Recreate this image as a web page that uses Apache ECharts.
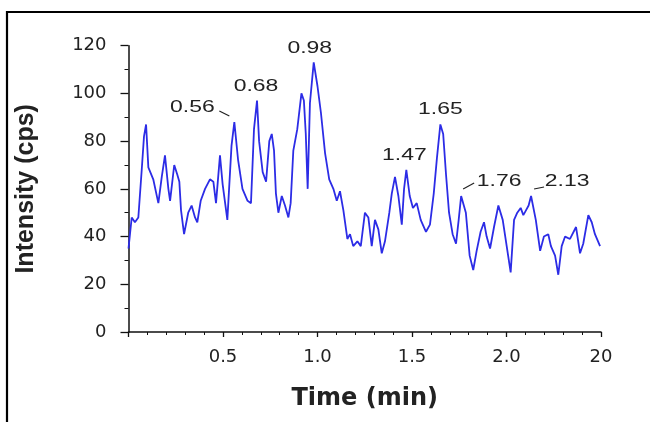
<!DOCTYPE html>
<html>
<head>
<meta charset="utf-8">
<script src="https://cdn.jsdelivr.net/npm/echarts@6/dist/echarts.min.js"></script>
<style>
  html, body { margin: 0; padding: 0; background: #ffffff; }
  #chart { width: 650px; height: 422px; }
</style>
</head>
<body>
<div id="chart"></div>
<script>
// Chromatogram trace: retention time (min) and intensity (cps)
const times = [
  0.000, 0.017, 0.034, 0.052, 0.070, 0.082, 0.093, 0.105, 0.131, 0.158,
  0.176, 0.193, 0.211, 0.220, 0.242, 0.258, 0.269, 0.278, 0.294, 0.316,
  0.334, 0.352, 0.364, 0.382, 0.405, 0.431, 0.449, 0.463, 0.484, 0.498,
  0.523, 0.545, 0.560, 0.580, 0.603, 0.630, 0.648, 0.664, 0.680, 0.691,
  0.710, 0.728, 0.745, 0.758, 0.770, 0.780, 0.793, 0.811, 0.828, 0.846,
  0.858, 0.872, 0.893, 0.915, 0.928, 0.938, 0.948, 0.960, 0.980, 1.000,
  1.018, 1.040, 1.062, 1.084, 1.102, 1.119, 1.137, 1.158, 1.172, 1.189,
  1.211, 1.229, 1.251, 1.269, 1.287, 1.304, 1.322, 1.340, 1.357, 1.380,
  1.393, 1.410, 1.428, 1.446, 1.458, 1.470, 1.488, 1.505, 1.525, 1.546,
  1.574, 1.595, 1.615, 1.632, 1.650, 1.665, 1.680, 1.696, 1.715, 1.733,
  1.747, 1.760, 1.785, 1.805, 1.824, 1.842, 1.863, 1.881, 1.895, 1.913,
  1.934, 1.957, 1.980, 2.001, 2.022, 2.040, 2.057, 2.075, 2.089, 2.103,
  2.117, 2.130, 2.155, 2.178, 2.198, 2.221, 2.235, 2.257, 2.274, 2.292,
  2.310, 2.336, 2.368, 2.389, 2.406, 2.433, 2.451, 2.468, 2.495
];
const intensity = [
  35, 48, 46, 48, 68, 82, 87, 69, 64, 54,
  65, 74, 60, 55, 70, 66, 63, 51, 41, 50,
  53, 48, 46, 55, 60, 64, 63, 54, 74, 62,
  47, 78, 88, 72, 60, 55, 54, 85, 97, 80,
  67, 63, 80, 83, 76, 58, 50, 57, 53, 48,
  54, 76, 85, 100, 97, 83, 60, 96, 113, 103,
  92, 75, 64, 60, 55, 59, 51, 39, 41, 36,
  38, 36, 50, 48, 36, 47, 43, 33, 38, 50,
  58, 65, 57, 45, 60, 68, 57, 52, 54, 47,
  42, 45, 58, 73, 87, 83, 66, 50, 41, 37,
  47, 57, 50, 32, 26, 34, 42, 46, 40, 35,
  44, 53, 47, 36, 25, 47, 50, 52, 49, 51,
  53, 57, 47, 34, 40, 41, 36, 32, 24, 36,
  40, 39, 44, 33, 37, 49, 46, 41, 36
];

// Annotated peaks (retention times)
const peakTimes = [0.56, 0.68, 0.98, 1.47, 1.65, 1.76, 2.13];
const peakLabels = ['0.56', '0.68', '0.98', '1.47', '1.65', '1.76', '2.13'];

// Axis ticks
const yTickValues = [0, 20, 40, 60, 80, 100, 120];
const xTickValues = [0, 0.5, 1.0, 1.5, 2.0, 2.5];
const xTickLabels = ['', '0.5', '1.0', '1.5', '2.0', '20'];

const seriesData = times.map((t, i) => [t, intensity[i]]);

// label placement relative to each peak: [dx, dy] of text centre, optional leader
const labelPlacement = {
  '0.56': { dx: -42, dy: -15, leader: [-15, -11, -5, -6] },
  '0.68': { dx: -1, dy: -14 },
  '0.98': { dx: -4, dy: -14 },
  '1.47': { dx: -2, dy: -14 },
  '1.65': { dx: 0, dy: -15 },
  '1.76': { dx: 38, dy: -15, leader: [2, -7, 13, -13] },
  '2.13': { dx: 36, dy: -15, leader: [3, -7, 13, -9] }
};

const chart = echarts.init(document.getElementById('chart'), null, { renderer: 'canvas' });

const axisColor = '#111';
const textColor = '#222';

chart.setOption({
  animation: false,
  backgroundColor: '#ffffff',
  grid: { left: 128.5, right: 49, top: 45.7, bottom: 90, containLabel: false },
  xAxis: {
    type: 'value',
    min: xTickValues[0],
    max: xTickValues[xTickValues.length - 1],
    interval: 0.5,
    name: 'Time (min)',
    nameLocation: 'middle',
    nameGap: 55,
    nameTextStyle: { fontFamily: 'DejaVu Sans', fontWeight: 'bold', fontSize: 24, color: textColor },
    axisLine: { lineStyle: { color: axisColor, width: 1.5 } },
    axisTick: { show: true, length: 5, lineStyle: { color: axisColor, width: 1.3 } },
    minorTick: { show: true, splitNumber: 5, length: 3, lineStyle: { color: axisColor, width: 1 } },
    splitLine: { show: false },
    axisLabel: {
      margin: 16,
      fontFamily: 'DejaVu Sans',
      fontSize: 18,
      color: textColor,
      formatter: (v) => {
        const i = xTickValues.findIndex(x => Math.abs(x - v) < 1e-6);
        return i >= 0 ? xTickLabels[i] : '';
      }
    }
  },
  yAxis: {
    type: 'value',
    min: yTickValues[0],
    max: yTickValues[yTickValues.length - 1],
    interval: 20,
    name: 'Intensity (cps)',
    nameLocation: 'middle',
    nameGap: 90,
    nameTextStyle: { fontFamily: 'Liberation Sans', fontWeight: 'bold', fontSize: 25, color: textColor },
    axisLine: { show: true, lineStyle: { color: axisColor, width: 1.5 } },
    axisTick: { show: true, length: 8, lineStyle: { color: axisColor, width: 1.3 } },
    minorTick: { show: true, splitNumber: 2, length: 4, lineStyle: { color: axisColor, width: 1 } },
    splitLine: { show: false },
    axisLabel: { margin: 22, fontFamily: 'DejaVu Sans', fontSize: 18, color: textColor }
  },
  series: [{
    type: 'line',
    data: seriesData,
    showSymbol: false,
    symbol: 'none',
    lineStyle: { color: '#2c2ce6', width: 1.8 },
    z: 3
  }]
});

// Peak annotations and page frame
function buildGraphics() {
  const els = [];
  peakTimes.forEach((t, k) => {
    const idx = times.findIndex(x => Math.abs(x - t) < 1e-6);
    const v = intensity[idx];
    const p = chart.convertToPixel({ gridIndex: 0 }, [t, v]);
    const place = labelPlacement[peakLabels[k]];
    els.push({
      type: 'text',
      x: p[0] + place.dx,
      y: p[1] + place.dy,
      scaleX: 1.35,
      z: 10,
      style: {
        text: peakLabels[k],
        fontFamily: 'Liberation Sans',
        fontSize: 17,
        fill: textColor,
        align: 'center',
        verticalAlign: 'middle',
        textAlign: 'center',
        textVerticalAlign: 'middle'
      }
    });
    if (place.leader) {
      const l = place.leader;
      els.push({
        type: 'line',
        z: 10,
        shape: { x1: p[0] + l[0], y1: p[1] + l[1], x2: p[0] + l[2], y2: p[1] + l[3] },
        style: { stroke: textColor, lineWidth: 1.2 }
      });
    }
  });
  // frame: top and left border lines
  els.push({
    type: 'polyline',
    z: 10,
    shape: { points: [[7, 422], [7, 12], [650, 12]] },
    style: { stroke: '#000', lineWidth: 2.2, fill: null }
  });
  return els;
}

chart.setOption({ graphic: buildGraphics() });
</script>
</body>
</html>
